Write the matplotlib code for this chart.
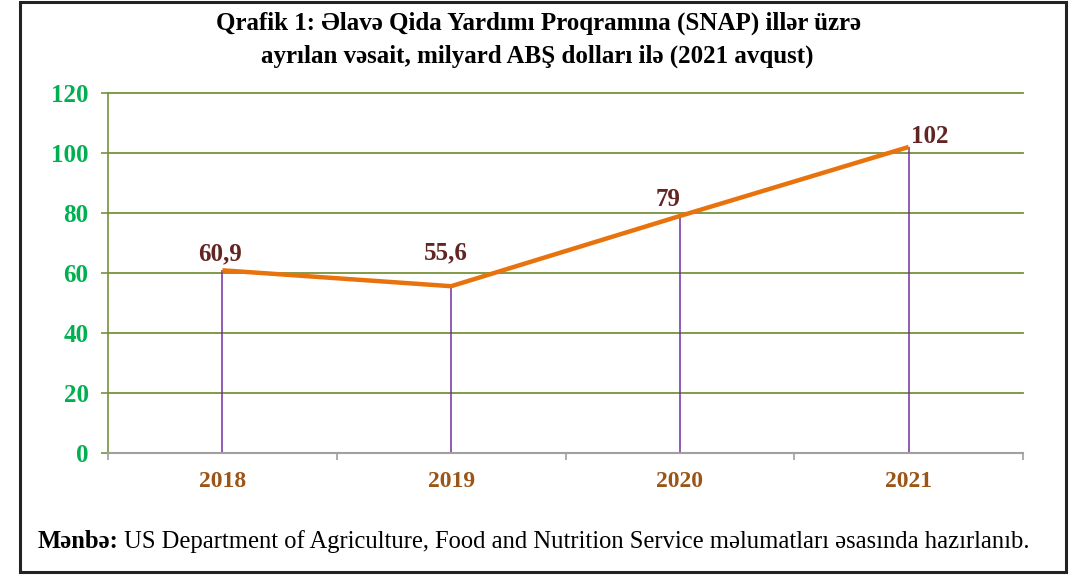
import matplotlib.pyplot as plt
from matplotlib.patches import Rectangle

plt.rcParams['font.family'] = ['Liberation Serif', 'DejaVu Serif']

# data
years = ['2018', '2019', '2020', '2021']
values = [60.9, 55.6, 79, 102]
labels = ['60,9', '55,6', '79', '102']
yticks = [0, 20, 40, 60, 80, 100, 120]
# label offsets (points) for each data label
offsets = [(-1.4, 7.2), (-3.6, 19.4), (-8.6, 7.2), (15, 2.9)]

W, H = 1079, 576
fig = plt.figure(figsize=(W / 100, H / 100), dpi=100)

# outer frame
fig.patches.append(Rectangle((20 / W, 4 / H), 1046 / W, 570 / H, transform=fig.transFigure,
                             fill=False, ec='#222222', lw=2.2))

ax = fig.add_axes([108 / W, 1 - 453 / H, 915 / W, 360 / H])
x = list(range(len(years)))

ax.set_xlim(-0.5, len(years) - 0.5)
ax.set_ylim(0, 120)

ax.set_yticks(yticks)
ax.set_yticklabels([str(t) for t in yticks])
ax.yaxis.grid(True, color='#76923C', lw=1.3)
for gl in ax.get_ygridlines():
    gl.set_clip_on(False)
ax.set_axisbelow(True)

# drop lines
ax.vlines(x, 0, values, colors='#7030A0', lw=1.1, zorder=2)
ax.plot(x, values, color='#E8720C', lw=3.2, solid_capstyle='butt', zorder=3)

for xi, v, lab, off in zip(x, values, labels, offsets):
    ax.annotate(lab, (xi, v), xytext=off, textcoords='offset points', ha='center', va='baseline',
                fontsize=18, fontweight='bold', color='#632523')

ax.set_xticks(x)
ax.set_xticklabels(years)
ax.set_xticks([i - 0.5 for i in range(len(years) + 1)], minor=True)
ax.tick_params(axis='x', which='major', length=0, pad=13, labelsize=17, labelcolor='#9C5516')
ax.tick_params(axis='x', which='minor', length=5, color='#A0A0A0', width=1.2)
for lab in ax.get_xticklabels():
    lab.set_fontweight('bold')

ax.tick_params(axis='y', length=5, color='#76923C', width=1.2, pad=9, labelsize=18, labelcolor='#00B050')
for lab in ax.get_yticklabels():
    lab.set_fontweight('bold')

for s in ['top', 'right']:
    ax.spines[s].set_visible(False)
ax.spines['left'].set_color('#76923C')
ax.spines['left'].set_linewidth(1.2)
ax.spines['bottom'].set_color('#A0A0A0')
ax.spines['bottom'].set_linewidth(1.5)

fig.text(538 / W, 1 - 23 / H, 'Qrafik 1: Əlavə Qida Yardımı Proqramına (SNAP) illər üzrə',
         ha='center', va='center', fontsize=18, fontweight='bold')
fig.text(537 / W, 1 - 56 / H, 'ayrılan vəsait, milyard ABŞ dolları ilə (2021 avqust)',
         ha='center', va='center', fontsize=18, fontweight='bold')

src = fig.text(38 / W, 1 - 548 / H, 'Mənbə:', ha='left', va='baseline', fontsize=17.7, fontweight='bold')
fig.canvas.draw()
bb = src.get_window_extent()
fig.text((bb.x1 + 5) / W, 1 - 548 / H,
         'US Department of Agriculture, Food and Nutrition Service məlumatları əsasında hazırlanıb.',
         ha='left', va='baseline', fontsize=17.7)

fig.savefig('out.png', dpi=100)
